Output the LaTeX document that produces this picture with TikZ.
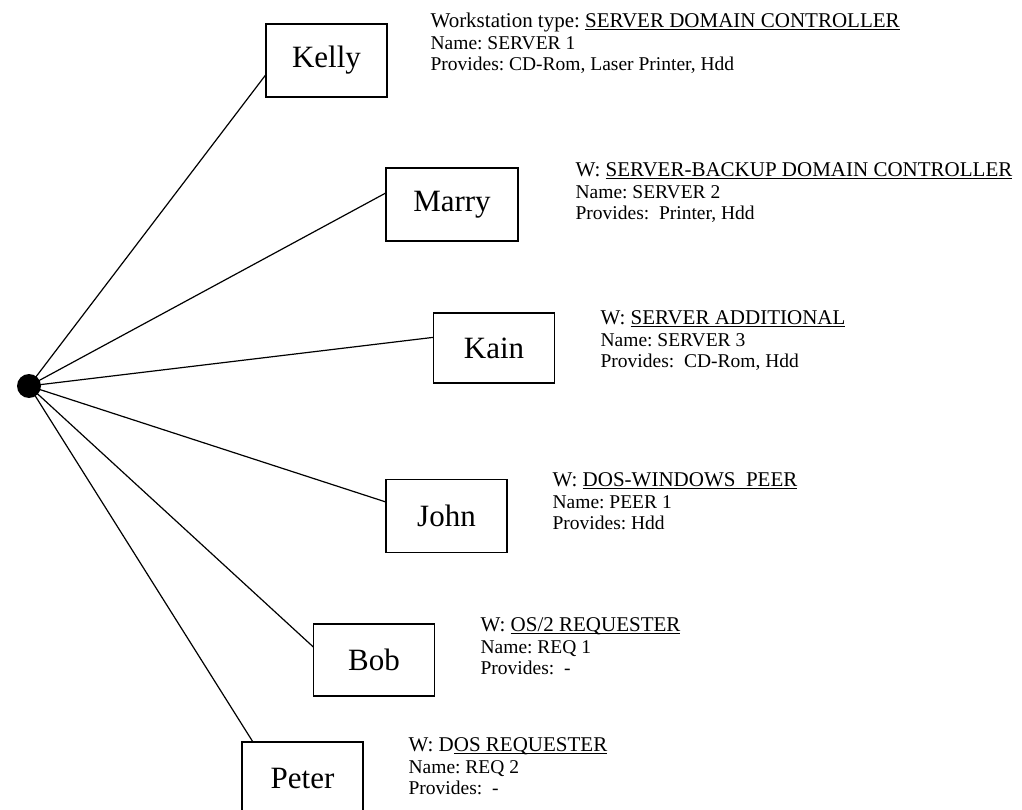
\documentclass[tikz,border=0pt]{standalone}
\usepackage{fontspec}
\setmainfont{Liberation Serif}
\frenchspacing
\newcommand\typeline[2]{{\fontsize{21}{21.5}\selectfont#1\underline{\smash{#2}}}}
\begin{document}
\begin{tikzpicture}[x=1pt,y=-1pt,line width=1.2pt,
	person/.style={draw,inner sep=0pt,outer sep=0pt,minimum width=121pt,minimum height=73pt,font=\fontsize{31}{31}\selectfont},
	info/.style={anchor=north west,inner sep=0pt,align=left,font=\fontsize{19.5}{21.5}\selectfont}]
	\useasboundingbox (0,0) rectangle (1022,810);
	\node[circle,fill=black,inner sep=0pt,minimum size=24pt] (hub) at (29,386) {};
	\node[person] (kelly) at (326.5,60.5) {Kelly};
	\node[person,minimum width=132pt] (marry) at (452,204.5) {Marry};
	\node[person,minimum height=70pt] (kain) at (494,348) {Kain};
	\node[person] (john) at (446.5,516) {John};
	\node[person,minimum height=72pt] (bob) at (374,660) {Bob};
	\node[person,minimum height=72pt] (peter) at (302.5,778) {Peter};
	\node[info] (kellyinfo) at (430,12.5) {\typeline{Workstation type: }{SERVER DOMAIN CONTROLLER}\\Name: SERVER 1\\Provides: CD-Rom, Laser Printer, Hdd};
	\node[info] (marryinfo) at (575,162.5) {\typeline{W: }{SERVER-BACKUP DOMAIN CONTROLLER}\\Name: SERVER 2\\Provides:\ \ Printer, Hdd};
	\node[info] (kaininfo) at (600,310.5) {\typeline{W: }{SERVER ADDITIONAL}\\Name: SERVER 3\\Provides:\ \ CD-Rom, Hdd};
	\node[info] (johninfo) at (552,472.5) {\typeline{W: }{DOS-WINDOWS\ \ PEER}\\Name: PEER 1\\Provides: Hdd};
	\node[info] (bobinfo) at (480,617.5) {\typeline{W: }{OS/2 REQUESTER}\\Name: REQ 1\\Provides:\ \ -};
	\node[info] (peterinfo) at (408,737.5) {\typeline{W: D}{OS REQUESTER}\\Name: REQ 2\\Provides:\ \ -};
	\draw (hub.center)--(kelly.193.5) (hub.center)--(marry.170.1) (hub.center)--(kain.170.7)
	(hub.center)--(john.167) (hub.center)--(bob.168) (hub.center)--(peter.144.5);
\end{tikzpicture}
\end{document}
